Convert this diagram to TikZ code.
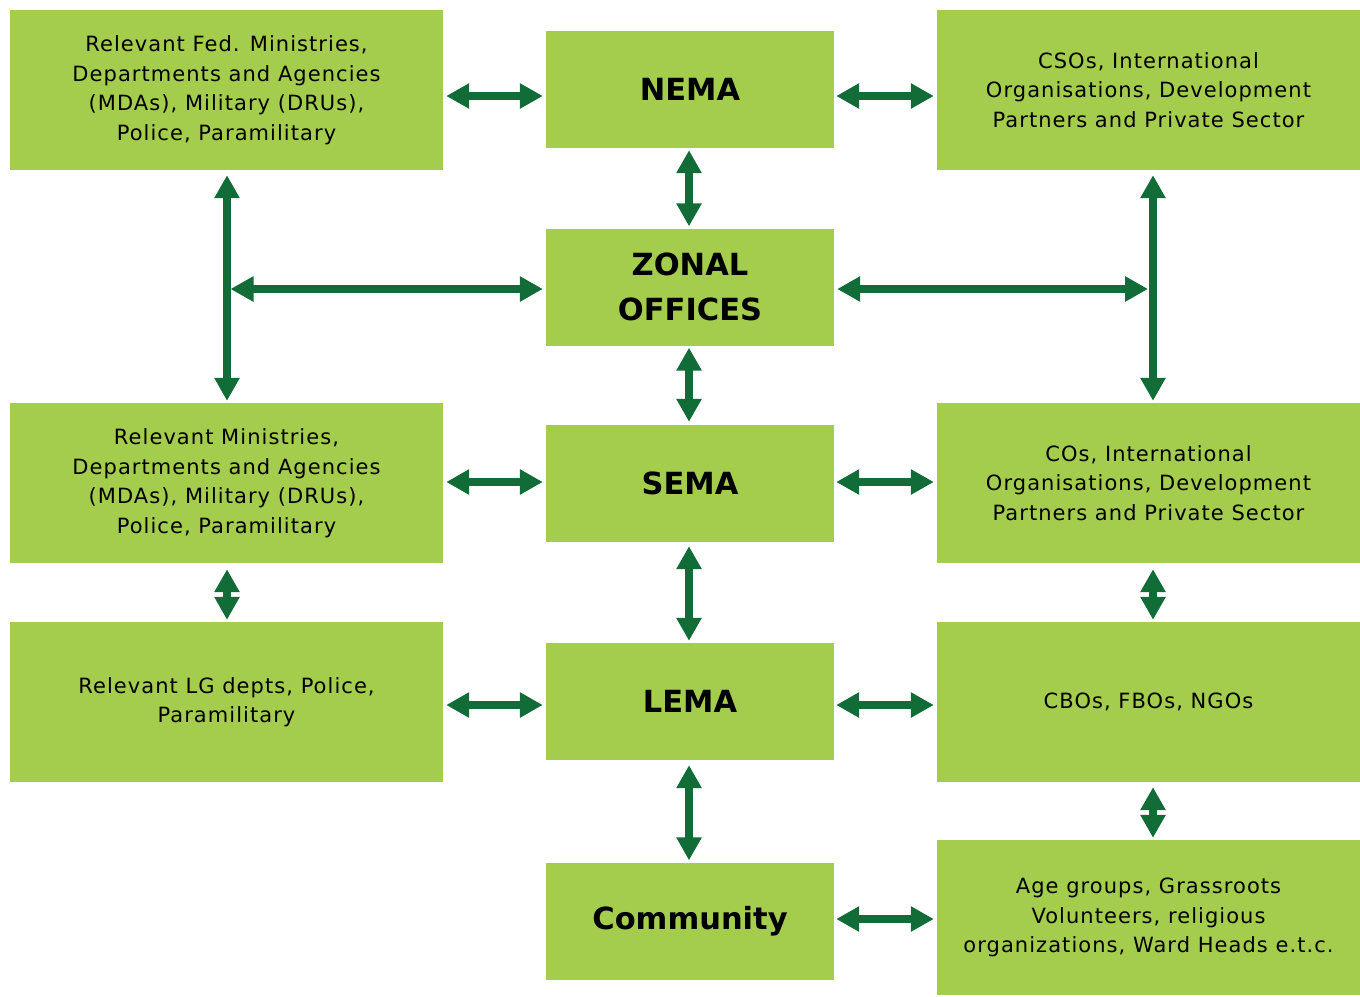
\documentclass[tikz,border=0pt]{standalone}
\usepackage{fontspec}
\setmainfont{DejaVu Sans}
\newfontfamily\bodyfont[LetterSpace=5]{DejaVu Sans}
\usetikzlibrary{arrows.meta}
\definecolor{boxgreen}{RGB}{164,205,77}
\definecolor{arrowgreen}{RGB}{17,108,55}
\tikzset{
  box/.style={fill=boxgreen, draw=none, align=center, inner sep=0pt, text=black,
    font=\bodyfont\fontsize{21}{29.5}\selectfont},
  sidebox/.style={box, minimum width=433pt, minimum height=160pt},
  rightbox/.style={box, minimum width=423pt, minimum height=160pt},
  hub/.style={box, minimum width=288pt, minimum height=117pt,
    font=\rmfamily\fontsize{30.5}{45}\selectfont\bfseries},
  link/.style={arrowgreen, line width=8pt,
    {Triangle[length=23pt,width=24pt]}-{Triangle[length=23pt,width=24pt]}},
}
\begin{document}
\begin{tikzpicture}[x=1pt,y=-1pt]
\useasboundingbox (0,0) rectangle (1360,996);

% central chain
\node[hub] (nema) at (690,89.5) {NEMA};
\node[hub] (zonal) at (690,287) {ZONAL\\OFFICES};
\node[hub] (sema) at (690,483.5) {SEMA};
\node[hub] (lema) at (690,701.5) {LEMA};
\node[hub] (comm) at (690,921) {Community};

% left column
\node[sidebox] (fed) at (226.5,90) {Relevant Fed. Ministries,\\Departments and Agencies\\(MDAs), Military (DRUs),\\Police, Paramilitary};
\node[sidebox] (state) at (226.5,483) {Relevant Ministries,\\Departments and Agencies\\(MDAs), Military (DRUs),\\Police, Paramilitary};
\node[sidebox] (lg) at (226.5,702) {Relevant LG depts, Police,\\Paramilitary};

% right column
\node[rightbox] (cso) at (1148.5,90) {CSOs, International\\Organisations, Development\\Partners and Private Sector};
\node[rightbox] (co) at (1148.5,483) {COs, International\\Organisations, Development\\Partners and Private Sector};
\node[rightbox] (cbo) at (1148.5,702) {CBOs, FBOs, NGOs};
\node[box, minimum width=423pt, minimum height=155pt] (grass) at (1148.5,917.5) {Age groups, Grassroots\\Volunteers, religious\\organizations, Ward Heads e.t.c.};

% trunk lines on both sides
\coordinate (lv) at (fed.south |- zonal);
\coordinate (rv) at (1153,287);
\draw[link, shorten <=5pt, shorten >=2pt] ([xshift=0.5pt]fed.south) -- ([xshift=0.5pt]state.north);
\draw[link, shorten <=5pt, shorten >=2pt] ([xshift=4.5pt]cso.south) -- ([xshift=4.5pt]co.north);
\draw[link, shorten <=4pt, shorten >=3pt] ([yshift=-2pt]lv) -- ([yshift=-2pt]zonal.west);
\draw[link, shorten <=3pt, shorten >=5pt] ([yshift=-2pt]zonal.east) -- ([yshift=-2pt]rv);

% horizontal links
\draw[link, shorten <=3pt, shorten >=3pt] ([yshift=-6pt]fed.east) -- ([yshift=-6pt]fed.east -| nema.west);
\draw[link, shorten <=2pt, shorten >=3pt] ([yshift=-6.5pt]nema.east) -- ([yshift=-6.5pt]nema.east -| cso.west);
\draw[link, shorten <=3pt, shorten >=3pt] ([yshift=1.5pt]sema.west -| state.east) -- ([yshift=1.5pt]sema.west);
\draw[link, shorten <=2pt, shorten >=3pt] ([yshift=1.5pt]sema.east) -- ([yshift=1.5pt]sema.east -| co.west);
\draw[link, shorten <=3pt, shorten >=3pt] ([yshift=-3.5pt]lema.west -| lg.east) -- ([yshift=-3.5pt]lema.west);
\draw[link, shorten <=2pt, shorten >=3pt] ([yshift=-3.5pt]lema.east) -- ([yshift=-3.5pt]lema.east -| cbo.west);
\draw[link, shorten <=2pt, shorten >=3pt] ([yshift=2pt]comm.east) -- ([yshift=2pt]comm.east -| grass.west);

% vertical links
\draw[link, shorten <=2pt, shorten >=2pt] ([xshift=-1pt]nema.south) -- ([xshift=-1pt]zonal.north);
\draw[link, shorten <=2pt, shorten >=3pt] ([xshift=-1pt]zonal.south) -- ([xshift=-1pt]sema.north);
\draw[link, shorten <=4pt, shorten >=2pt] ([xshift=-1pt]sema.south) -- ([xshift=-1pt]lema.north);
\draw[link, shorten <=5pt, shorten >=2pt] ([xshift=-1pt]lema.south) -- ([xshift=-1pt]comm.north);
\draw[link, shorten <=6pt, shorten >=2pt] ([xshift=0.5pt]state.south) -- ([xshift=0.5pt]lg.north);
\draw[link, shorten <=6pt, shorten >=2pt] ([xshift=4.5pt]co.south) -- ([xshift=4.5pt]cbo.north);
\draw[link, shorten <=5pt, shorten >=2pt] ([xshift=4.5pt]cbo.south) -- ([xshift=4.5pt]grass.north);
\end{tikzpicture}
\end{document}
